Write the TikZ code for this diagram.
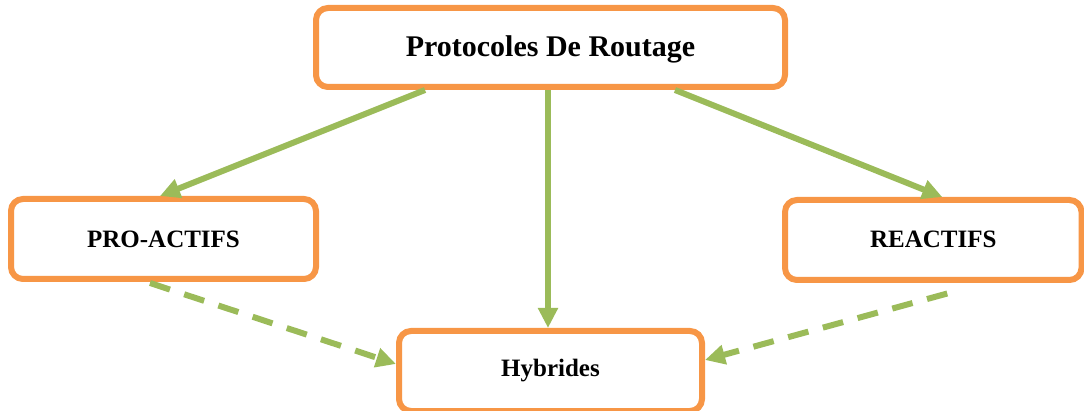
\documentclass[tikz,border=0pt]{standalone}
\usepackage{fontspec}
\setmainfont{Liberation Serif}
\usetikzlibrary{arrows.meta}
\definecolor{boxorange}{HTML}{F79646}
\definecolor{arrowgreen}{HTML}{9BBB59}
\tikzset{
  box/.style={draw=boxorange, line width=6pt, rounded corners=12pt, fill=white,
    font=\bfseries\fontsize{25}{30}\selectfont, text depth=0pt, inner sep=0pt},
  conn/.style={draw=arrowgreen, line width=6pt, -{Triangle[length=20pt,width=19pt]}},
  dconn/.style={conn, dash pattern=on 21pt off 15pt}
}
\begin{document}
\begin{tikzpicture}[x=1pt,y=-1pt]
\useasboundingbox (0,0) rectangle (1084,411);
\node[box, minimum width=469pt, minimum height=79pt, text height=19pt,
      font=\bfseries\fontsize{30}{36}\selectfont] (top) at (550.5,47.5) {Protocoles De Routage};
\node[box, minimum width=305pt, minimum height=80pt, text height=18pt] (pro) at (163.5,239) {PRO-ACTIFS};
\node[box, minimum width=296.5pt, minimum height=80pt, text height=16pt] (rea) at (933.25,240) {REACTIFS};
\node[box, minimum width=303pt, minimum height=80pt, text height=12pt] (hyb) at (550.5,371) {Hybrides};
\draw[conn] ([xshift=-125.5pt]top.south) -- ([xshift=-3.5pt]pro.north);
\draw[conn] ([xshift=-2.5pt]top.south) -- ([xshift=-2.5pt]hyb.north);
\draw[conn] ([xshift=124.5pt]top.south) -- ([xshift=9pt]rea.north);
\draw[dconn] ([xshift=-13.5pt,yshift=-1pt]pro.south) -- ([yshift=7pt]hyb.west);
\draw[dconn] ([xshift=14pt,yshift=-10.5pt]rea.south) -- ([yshift=11pt]hyb.east);
\end{tikzpicture}
\end{document}
